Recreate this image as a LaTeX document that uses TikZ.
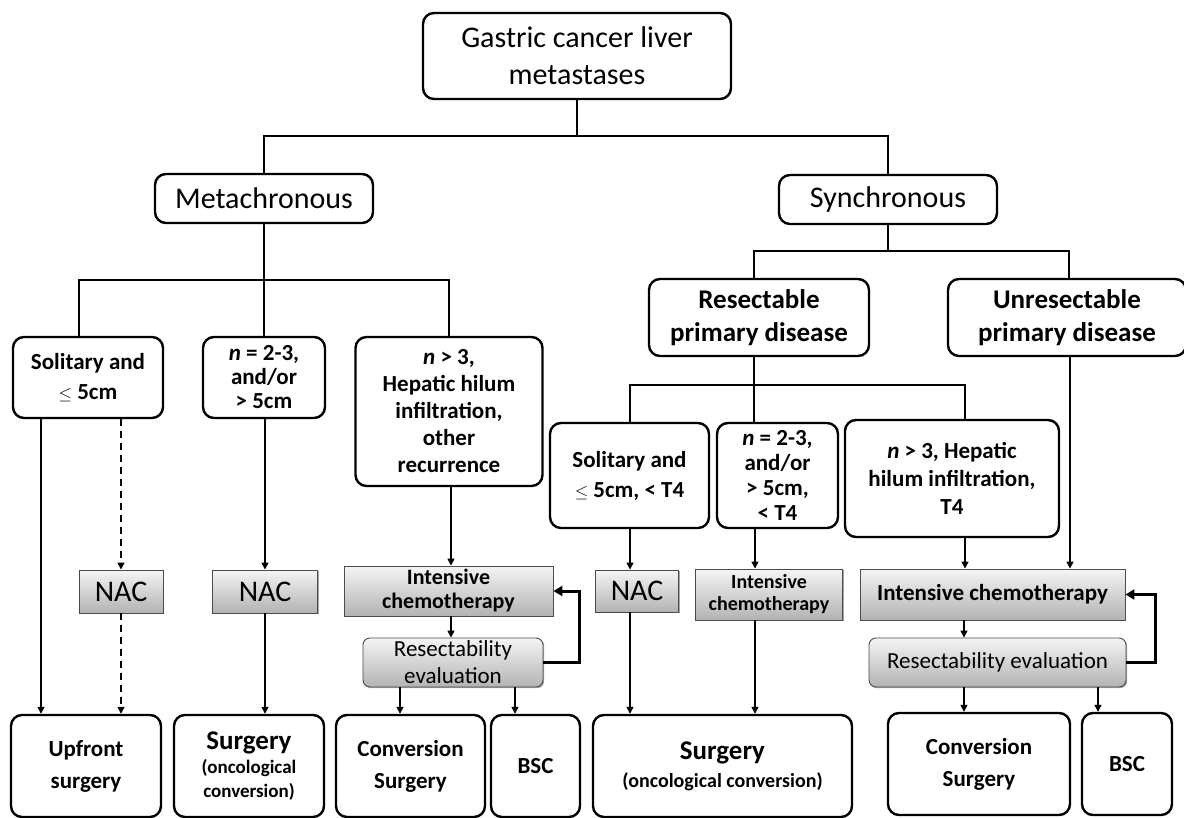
\documentclass[tikz,border=0pt]{standalone}
\usepackage{fontspec}
\setmainfont{Carlito}
\usetikzlibrary{arrows.meta,shadows,calc}
\newcommand\myfs[2]{\fontsize{#1}{#2}\selectfont}
\newcommand\myle{{\myfs{19}{19}$\leq$}}
\begin{document}
\begin{tikzpicture}[x=1pt,y=-1pt,
 wbox/.style={draw=black, line width=2.4pt, rounded corners=11pt, fill=white, align=center, inner sep=0pt, text=black},
 gbox/.style={draw=black!70, line width=0.9pt, top color=black!4, bottom color=black!30, align=center, inner sep=0pt,
   drop shadow={shadow xshift=1.2pt, shadow yshift=-1.2pt, opacity=0.35, fill=black}},
 gboxr/.style={gbox, rounded corners=7pt},
 tree/.style={line width=1.5pt},
 arr/.style={line width=1.5pt, -{Triangle[length=7pt,width=7pt]}},
 darr/.style={arr, dash pattern=on 7pt off 5pt},
 fb/.style={line width=3pt, -{Triangle[length=9pt,width=10pt]}},
 reg/.style={font=\myfs{30}{37}},
 bld/.style={font=\myfs{23}{28}\bfseries},
]
\useasboundingbox (0,0) rectangle (1184,818);
\fill[white] (0,0) rectangle (1184,818);

% --- nodes ---
\node[wbox, reg, minimum width=308, minimum height=86] (root) at (577,56) {Gastric cancer liver\\metastases};
\node[wbox, reg, minimum width=218, minimum height=49] (meta) at (264,198.5) {Metachronous};
\node[wbox, reg, minimum width=218, minimum height=49] (sync) at (888,199.5) {Synchronous};
\node[wbox, font=\myfs{27}{33}\bfseries, minimum width=220, minimum height=77] (resec) at (759,317.5) {Resectable\\primary disease};
\node[wbox, font=\myfs{27}{33}\bfseries, minimum width=238, minimum height=77] (unres) at (1067,317.5) {Unresectable\\primary disease};

\node[wbox, font=\myfs{23}{30}\bfseries, minimum width=150, minimum height=81] (m1) at (88,377.5) {Solitary and\\\myle{} 5cm};
\node[wbox, font=\myfs{23}{24}\bfseries, minimum width=122, minimum height=81] (m2) at (264,377.5) {\textit{n} = 2-3,\\and/or\\> 5cm};
\node[wbox, font=\myfs{23}{27}\bfseries, minimum width=187, minimum height=149] (m3) at (449,411.5) {\textit{n} > 3,\\Hepatic hilum\\infiltration,\\other\\recurrence};

\node[wbox, font=\myfs{23}{30}\bfseries, minimum width=159, minimum height=105] (s1) at (629.5,475.5) {Solitary and\\\myle{} 5cm, < T4};
\node[wbox, font=\myfs{23}{25}\bfseries, minimum width=121, minimum height=105] (s2) at (777.5,475.5) {\textit{n} = 2-3,\\and/or\\> 5cm,\\< T4};
\node[wbox, bld, minimum width=214, minimum height=117] (s3) at (952,478.5) {\textit{n} > 3, Hepatic\\hilum infiltration,\\T4};

\node[gbox, reg, minimum width=84, minimum height=43] (nac1) at (121,591.5) {NAC};
\node[gbox, reg, minimum width=105, minimum height=43] (nac2) at (265,591.5) {NAC};
\node[gbox, font=\myfs{22}{24}\bfseries, minimum width=209, minimum height=50] (ic1) at (448.5,591) {Intensive\\chemotherapy};
\node[gboxr, font=\myfs{23}{27}, minimum width=180, minimum height=49] (re1) at (453,662.5) {Resectability\\evaluation};
\node[gbox, reg, minimum width=83, minimum height=42] (nac3) at (637,591) {NAC};
\node[gbox, font=\myfs{20}{22}\bfseries, minimum width=147, minimum height=51] (ic2) at (769,594.5) {Intensive\\chemotherapy};
\node[gbox, font=\myfs{23}{27}\bfseries, minimum width=265, minimum height=51] (ic3) at (992.5,594.5) {Intensive chemotherapy};
\node[gboxr, font=\myfs{23}{27}, minimum width=257, minimum height=49] (re2) at (997.5,662.5) {Resectability evaluation};

\node[wbox, font=\myfs{23}{32}\bfseries, minimum width=150, minimum height=102] (b1) at (86,766) {Upfront\\surgery};
\node[wbox, font=\myfs{19}{24}\bfseries, minimum width=150, minimum height=102] (b2) at (249,766) {{\myfs{27}{30}\bfseries Surgery}\\(oncological\\conversion)};
\node[wbox, font=\myfs{23}{32}\bfseries, minimum width=149, minimum height=102] (b3) at (410.5,766) {Conversion\\Surgery};
\node[wbox, font=\myfs{23}{32}\bfseries, minimum width=89, minimum height=102] (b4) at (535.5,766) {BSC};
\node[wbox, font=\myfs{20}{28}\bfseries, minimum width=259, minimum height=102] (b5) at (722.5,766) {{\myfs{27}{30}\bfseries Surgery}\\(oncological conversion)};
\node[wbox, font=\myfs{23}{32}\bfseries, minimum width=182, minimum height=102] (b6) at (979,764) {Conversion\\Surgery};
\node[wbox, font=\myfs{23}{32}\bfseries, minimum width=90, minimum height=102] (b7) at (1127,764) {BSC};

% --- tree lines ---
\coordinate (j1) at (581,136);
\draw[tree] (root.south) -- (root.south |- j1);
\draw[tree] (meta.north) |- (sync.north |- j1) -- (sync.north);
\draw[tree] (meta.south) -- (meta.south |- m2.north);
\draw[tree] (79,0 |- m1.north) -- (79,280) -- (m3.north |- 0,280) -- (m3.north);
\draw[tree] (sync.south) -- (sync.south |- 0,251);
\draw[tree] (754,0 |- resec.north) -- (754,251) -- (1069,251) -- (1069,0 |- unres.north);
\draw[tree] (754,0 |- resec.south) -- (754,0 |- s2.north);
\draw[tree] (630,0 |- s1.north) -- (630,385) -- (965,385) -- (965,0 |- s3.north);

% --- arrows metachronous ---
\draw[arr] (41,0 |- m1.south) -- (41,0 |- b1.north);
\draw[darr] (nac1.north |- m1.south) -- (nac1.north);
\draw[darr] (nac1.south) -- (nac1.south |- b1.north);
\draw[arr] (nac2.north |- m2.south) -- (nac2.north);
\draw[arr] (nac2.south) -- (nac2.south |- b2.north);
\draw[arr] (451,0 |- m3.south) -- (451,0 |- ic1.north);
\draw[arr] (451,0 |- ic1.south) -- (451,0 |- re1.north);
\draw[fb] (re1.east) -- ++(36,0) |- (ic1.east);
\draw[arr] (400,0 |- re1.south) -- (400,0 |- b3.north);
\draw[arr] (515,0 |- re1.south) -- (515,0 |- b4.north);

% --- arrows synchronous ---
\draw[arr] (630,0 |- s1.south) -- (630,0 |- nac3.north);
\draw[arr] (630,0 |- nac3.south) -- (630,0 |- b5.north);
\draw[arr] (755,0 |- s2.south) -- (755,0 |- ic2.north);
\draw[arr] (755,0 |- ic2.south) -- (755,0 |- b5.north);
\draw[arr] (965,0 |- s3.south) -- (965,0 |- ic3.north);
\draw[arr] (1070,0 |- unres.south) -- (1070,0 |- ic3.north);
\draw[arr] (964,0 |- ic3.south) -- (964,0 |- re2.north);
\draw[fb] (re2.east) -- ++(29,0) |- (ic3.east);
\draw[arr] (964,0 |- re2.south) -- (964,0 |- b6.north);
\draw[arr] (1098,0 |- re2.south) -- (1098,0 |- b7.north);
\end{tikzpicture}
\end{document}
